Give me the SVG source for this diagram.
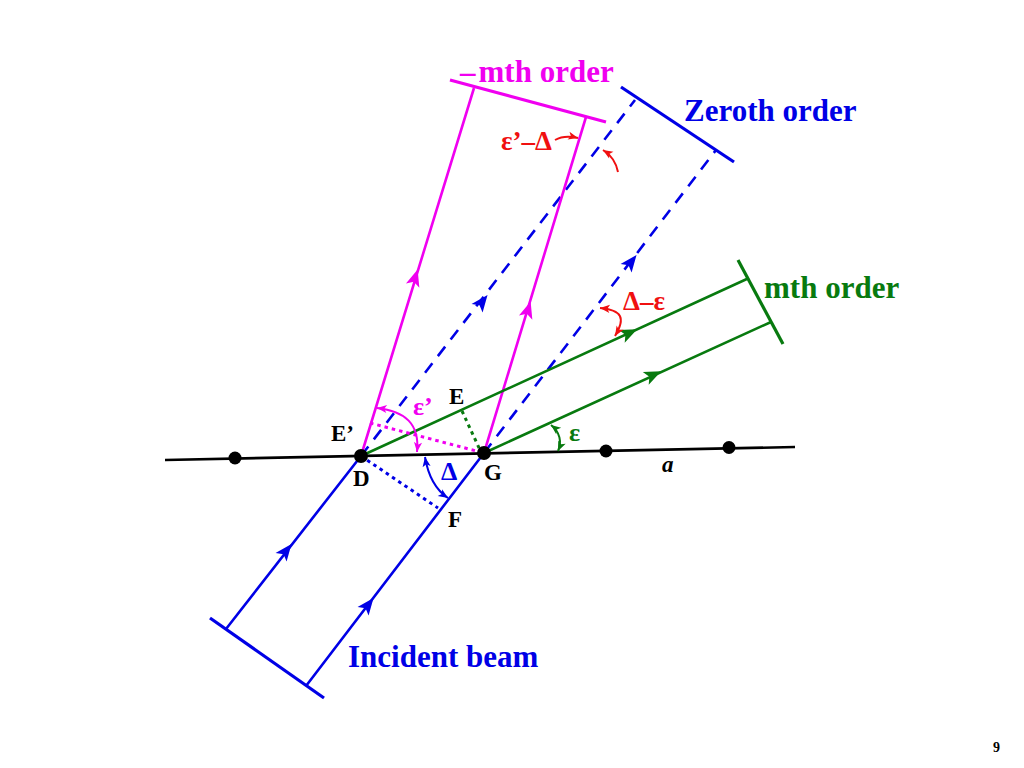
<svg xmlns="http://www.w3.org/2000/svg" width="1024" height="768" viewBox="0 0 1024 768">
<style>
text{font-family:"Liberation Serif","Times New Roman",serif;font-weight:bold}
.big{font-size:31px}.mid{font-size:23px}.gk{font-size:26px}.gk2{font-size:27px}
.bl{stroke:#0000e6;fill:none}.mg{stroke:#f000f0;fill:none}.gr{stroke:#087a0f;fill:none}.rd{stroke:#f01010;fill:none}.bk{stroke:#000;fill:none}
.w3{stroke-width:3.2}.w2{stroke-width:2.6}.w1{stroke-width:2}
.dash{stroke-dasharray:12 9}.dot{stroke-dasharray:3.5 4;stroke-width:3}
.tbl{fill:#0000e6}.tmg{fill:#f000f0}.tgr{fill:#087a0f}.trd{fill:#f01010}
</style>
<defs>
<path id="ah" d="M9,0 L-8,-7 L-4,0 L-8,7 Z"/>
<marker id="rs" viewBox="-8 -6 16 12" refX="6" refY="0" markerWidth="13" markerHeight="10" markerUnits="userSpaceOnUse" orient="auto-start-reverse"><path d="M6,0 L-6,-5 L-3,0 L-6,5 Z" fill="#f01010"/></marker>
<marker id="ms" viewBox="-8 -6 16 12" refX="6" refY="0" markerWidth="13" markerHeight="10" markerUnits="userSpaceOnUse" orient="auto-start-reverse"><path d="M6,0 L-6,-5 L-3,0 L-6,5 Z" fill="#f000f0"/></marker>
<marker id="bs" viewBox="-8 -6 16 12" refX="6" refY="0" markerWidth="13" markerHeight="10" markerUnits="userSpaceOnUse" orient="auto-start-reverse"><path d="M6,0 L-6,-5 L-3,0 L-6,5 Z" fill="#0000e6"/></marker>
<marker id="gs" viewBox="-8 -6 16 12" refX="6" refY="0" markerWidth="13" markerHeight="10" markerUnits="userSpaceOnUse" orient="auto-start-reverse"><path d="M6,0 L-6,-5 L-3,0 L-6,5 Z" fill="#087a0f"/></marker>
</defs>
<g id="connectors">
<path class="bk w2" d="M165,460 L795,447"/>
<path class="bl w3" d="M210,618 L324,698"/>
<path class="bl w2" d="M226,629 L361,456 M306,686 L484,453"/>
<path class="bl w3" d="M621,87 L734,162"/>
<path class="bl w2 dash" d="M361,456 L635,100 M484,453 L716,150"/>
<path class="mg w3" d="M450,80 L606,122"/>
<path class="mg w2" d="M361,456 L474,88 M484,453 L586,117"/>
<path class="gr w3" d="M738,260 L783,344"/>
<path class="gr w2" d="M361,456 L749,278 M484,453 L771,322"/>
<path class="mg dot" d="M370,423 L484,453"/>
<path class="gr dot" d="M462,411 L480,450"/>
<path class="bl dot" d="M361,456 L438,508"/>
<g class="tbl">
<use href="#ah" transform="translate(286,551) rotate(-52)"/>
<use href="#ah" transform="translate(368,605) rotate(-52)"/>
<use href="#ah" transform="translate(482,302) rotate(-52)"/>
<use href="#ah" transform="translate(631,262) rotate(-52)"/>
</g>
<g class="tmg">
<use href="#ah" transform="translate(415,278) rotate(-73)"/>
<use href="#ah" transform="translate(528,310) rotate(-73)"/>
</g>
<g class="tgr">
<use href="#ah" transform="translate(629,333) rotate(-25)"/>
<use href="#ah" transform="translate(653,375) rotate(-25)"/>
</g>
<path class="mg w1" marker-start="url(#ms)" marker-end="url(#ms)" d="M377,408 C405,411 420,424 417,452"/>
<path class="bl w1" marker-start="url(#bs)" marker-end="url(#bs)" d="M425,457 C428,475 436,490 448,498"/>
<path class="gr w1" marker-start="url(#gs)" marker-end="url(#gs)" d="M551,425 C560,432 562,442 558,451"/>
<path class="rd w1" marker-start="url(#rs)" marker-end="url(#rs)" d="M600,308 C622,310 626,318 615,336"/>
<path class="rd w1" marker-end="url(#rs)" d="M555,140 C562,136 570,136 578,138"/>
<path class="rd w1" marker-end="url(#rs)" d="M618,172 C616,162 611,155 603,150"/>
</g>
<g id="node-points" fill="#000">
<circle cx="235" cy="458" r="6.5"/>
<circle cx="361" cy="456" r="7"/>
<circle cx="484" cy="453" r="7"/>
<circle cx="606" cy="451" r="6.5"/>
<circle cx="729" cy="447.5" r="6.5"/>
</g>
<g id="labels">
<text class="big tmg" x="460" y="82">–<tspan dx="3">mth order</tspan></text>
<text class="big tbl" x="684" y="121">Zeroth order</text>
<text class="big tgr" x="764" y="298">mth order</text>
<text class="big tbl" x="348" y="667">Incident beam</text>
<text class="mid" x="331" y="441">E’</text>
<text class="mid" x="449" y="404">E</text>
<text class="mid" x="353" y="486">D</text>
<text class="mid" x="484" y="480">G</text>
<text class="mid" x="448" y="527">F</text>
<text class="mid" x="662" y="472" font-style="italic">a</text>
<text class="gk tbl" x="441" y="480">Δ</text>
<text class="gk tmg" x="413" y="415">ε’</text>
<text class="gk tgr" x="569" y="441">ε</text>
<text class="gk2 trd" x="623" y="310">Δ–ε</text>
<text class="gk2 trd" x="501" y="150">ε’–Δ</text>
<text x="993" y="752" font-size="14">9</text>
</g>
</svg>
